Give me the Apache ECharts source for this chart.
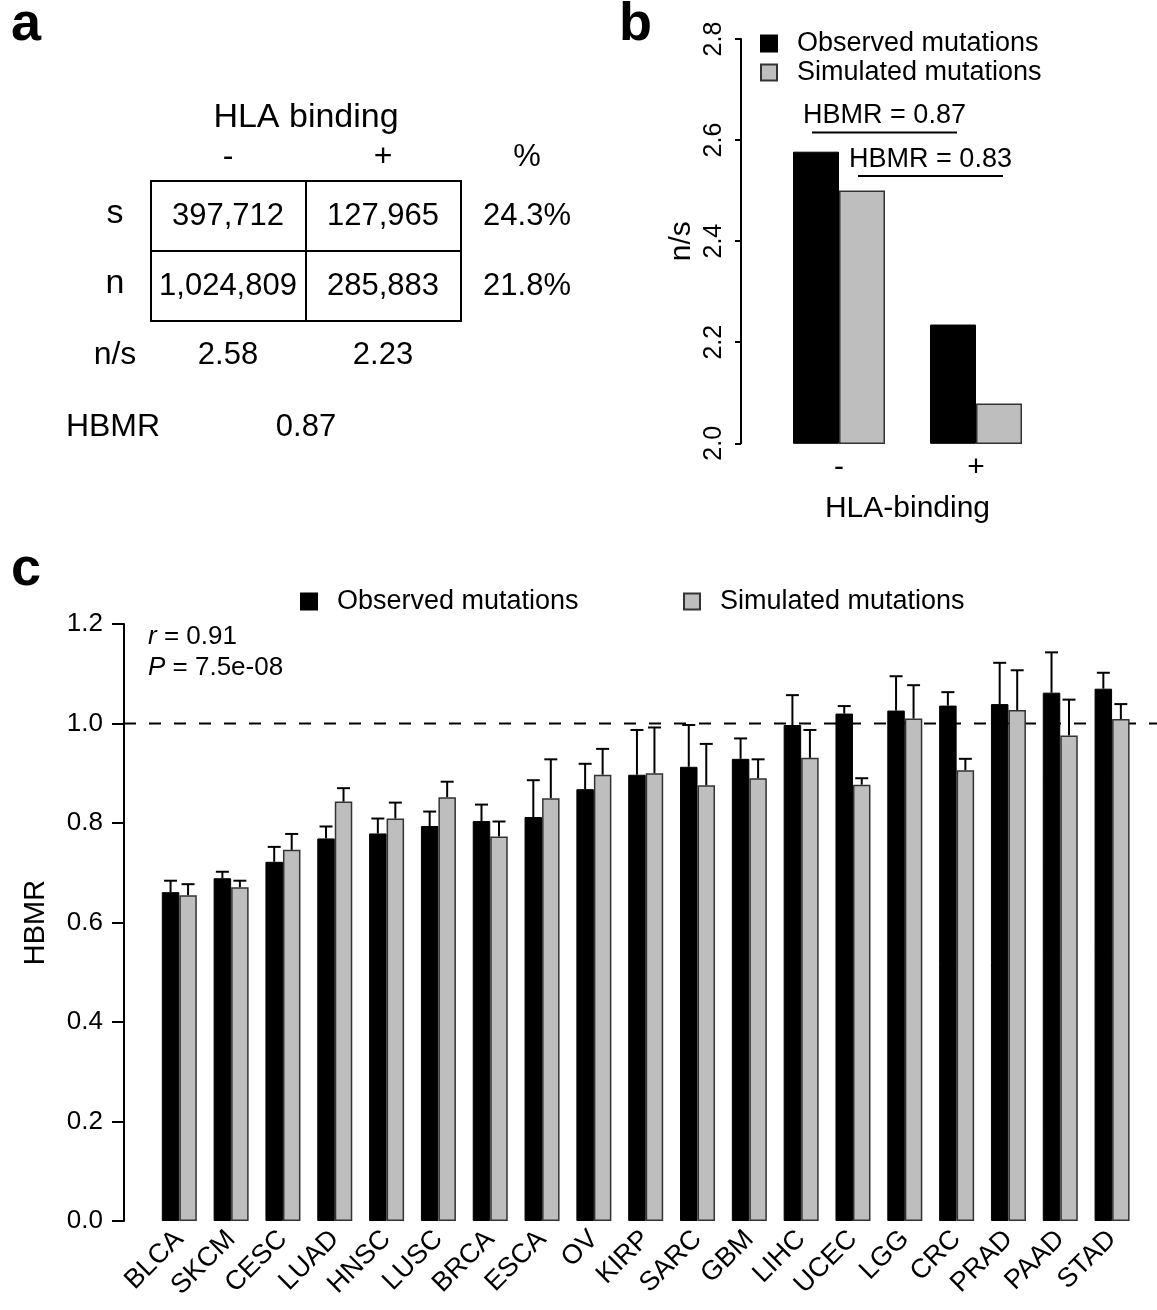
<!DOCTYPE html>
<html>
<head>
<meta charset="utf-8">
<title>HBMR</title>
<script src="https://cdn.jsdelivr.net/npm/echarts@6/dist/echarts.min.js"></script>
<style>
html, body { margin: 0; padding: 0; background: #fff; }
#chart { width: 1157px; height: 1310px; }
</style>
</head>
<body>
<div id="chart"></div>
<script>
// panel a - contingency table
var hlaLevels = ['-', '+'];
var tableRows = ['s', 'n'];
var synCounts = [397712, 127965];
var nonsynCounts = [1024809, 285883];
var rowPct = ['24.3%', '21.8%'];
var nsRatio = [2.58, 2.23];
var hbmrAll = 0.87;

// panel b - n/s by HLA binding
var nsObserved = [2.577, 2.235];
var nsSimulated = [2.500, 2.079];
var bracketLabels = ['HBMR = 0.87', 'HBMR = 0.83'];
var bracketY = [2.615, 2.529];

// panel c - HBMR per cancer type (bar value, upper error bar)
var cancerTypes = ['BLCA', 'SKCM', 'CESC', 'LUAD', 'HNSC', 'LUSC', 'BRCA', 'ESCA', 'OV', 'KIRP',
  'SARC', 'GBM', 'LIHC', 'UCEC', 'LGG', 'CRC', 'PRAD', 'PAAD', 'STAD'];
var hbmrObserved = [0.661, 0.689, 0.722, 0.769, 0.779, 0.794, 0.804, 0.812, 0.868, 0.897,
  0.913, 0.929, 0.997, 1.020, 1.026, 1.036, 1.039, 1.062, 1.070];
var hbmrObservedUpper = [0.684, 0.702, 0.752, 0.793, 0.809, 0.823, 0.837, 0.886, 0.919, 0.987,
  0.997, 0.970, 1.057, 1.035, 1.095, 1.063, 1.122, 1.143, 1.102];
var hbmrSimulated = [0.655, 0.671, 0.746, 0.843, 0.809, 0.852, 0.773, 0.850, 0.897, 0.900,
  0.876, 0.890, 0.931, 0.877, 1.010, 0.906, 1.027, 0.976, 1.009];
var hbmrSimulatedUpper = [0.677, 0.684, 0.778, 0.870, 0.841, 0.883, 0.803, 0.928, 0.949, 0.992,
  0.959, 0.928, 0.987, 0.890, 1.077, 0.929, 1.107, 1.048, 1.039];
var corrR = '0.91';
var corrP = '7.5e-08';

var FONT = '"Liberation Sans", Arial, Helvetica, sans-serif';
var GRAY = '#bebebe';
var BAR_B = 46;     // bar width panel b
var BAR_C = 17.5;   // bar width panel c

function txt(s, x, y, size, align, extra) {
  var style = {
    text: s, fill: '#000', fontSize: size, fontFamily: FONT,
    align: align || 'center', verticalAlign: 'middle'
  };
  if (extra) for (var k in extra) style[k] = extra[k];
  return { type: 'text', x: x, y: y, z: 10, style: style };
}
function seg(x1, y1, x2, y2) {
  return { type: 'line', z: 10, shape: { x1: x1, y1: y1, x2: x2, y2: y2 }, style: { stroke: '#000', lineWidth: 2 } };
}

// table graphics for panel a
var colX = [228, 383];
var rowY = [216, 286];
var tableEls = [
  txt('a', 11, 25, 54, 'left', { fontWeight: 'bold' }),
  txt('b', 619, 25, 54, 'left', { fontWeight: 'bold' }),
  txt('c', 11, 570, 54, 'left', { fontWeight: 'bold' }),
  txt('HLA binding', 306, 118, 34),
  txt('%', 527, 157, 31),
  { type: 'rect', z: 10, shape: { x: 151, y: 181, width: 310, height: 140 },
    style: { fill: 'none', stroke: '#000', lineWidth: 2 } },
  seg(306, 181, 306, 321),
  seg(151, 251, 461, 251),
  txt('n/s', 115, 355, 32),
  txt('HBMR', 113, 427, 32),
  txt(hbmrAll.toFixed(2), 306, 427, 31)
];
hlaLevels.forEach(function (h, i) { tableEls.push(txt(h, colX[i], 157, 32)); });
tableRows.forEach(function (r, i) {
  tableEls.push(txt(r, 115, rowY[i] - 2, 34));
  tableEls.push(txt(rowPct[i], 527, rowY[i], 31));
});
[synCounts, nonsynCounts].forEach(function (row, i) {
  row.forEach(function (v, j) { tableEls.push(txt(v.toLocaleString('en-US'), colX[j], rowY[i], 31)); });
});
nsRatio.forEach(function (v, j) { tableEls.push(txt(v.toFixed(2), colX[j], 355, 31)); });

// correlation note on panel c
var richItalic = { i: { fontStyle: 'italic', fontSize: 26, fontFamily: FONT } };
tableEls.push(txt('{i|r} = ' + corrR, 148, 637, 26, 'left', { rich: richItalic }));
tableEls.push(txt('{i|P} = ' + corrP, 148, 668, 26, 'left', { rich: richItalic }));

function errorRenderer(sign) {
  return function (params, api) {
    var i = api.value(0);
    var base = api.coord([i, api.value(1)]);
    var top = api.coord([i, api.value(2)]);
    var cx = base[0] + sign * BAR_C / 2;
    var ls = { stroke: '#000', lineWidth: 2 };
    return {
      type: 'group',
      children: [
        { type: 'line', shape: { x1: cx, y1: base[1], x2: cx, y2: top[1] }, style: ls },
        { type: 'line', shape: { x1: cx - 6.5, y1: top[1], x2: cx + 6.5, y2: top[1] }, style: ls }
      ]
    };
  };
}

var chart = echarts.init(document.getElementById('chart'), null, { renderer: 'canvas' });

var option = {
  animation: false,
  backgroundColor: '#fff',
  textStyle: { fontFamily: FONT, color: '#000' },
  graphic: { elements: tableEls },
  legend: [
    {
      left: 760, top: 30, orient: 'vertical', padding: 0, itemGap: 2,
      itemWidth: 16, itemHeight: 16, icon: 'rect', selectedMode: false,
      formatter: '  {name}',
      textStyle: { fontSize: 27, color: '#000', lineHeight: 27 },
      data: ['Observed mutations', 'Simulated mutations']
    },
    {
      left: 300, top: 588, padding: 0, itemWidth: 16, itemHeight: 16, icon: 'rect', selectedMode: false,
      formatter: '  {name}',
      textStyle: { fontSize: 27, color: '#000', lineHeight: 27 },
      data: ['Observed mutations']
    },
    {
      left: 683, top: 588, padding: 0, itemWidth: 16, itemHeight: 16, icon: 'rect', selectedMode: false,
      formatter: '  {name}',
      textStyle: { fontSize: 27, color: '#000', lineHeight: 27 },
      data: ['Simulated mutations']
    }
  ],
  grid: [
    { left: 770.5, top: 39, width: 274, height: 404.3 },
    { left: 153.4, top: 624, width: 984.6, height: 597 }
  ],
  xAxis: [
    {
      type: 'category', gridIndex: 0, data: hlaLevels,
      axisLine: { show: false }, axisTick: { show: false },
      axisLabel: { fontSize: 30, color: '#000', margin: 9 },
      name: 'HLA-binding', nameLocation: 'middle', nameGap: 50,
      nameTextStyle: { fontSize: 30, color: '#000' }
    },
    {
      type: 'category', gridIndex: 1, data: cancerTypes,
      axisLine: { show: false }, axisTick: { show: false },
      axisLabel: { fontSize: 27, color: '#000', rotate: 45, margin: 14, interval: 0 }
    }
  ],
  yAxis: [
    {
      type: 'value', gridIndex: 0, min: 2.0, max: 2.8, interval: 0.2, offset: 29.5,
      splitLine: { show: false },
      axisLine: { show: true, lineStyle: { color: '#000', width: 2 } },
      axisTick: { show: true, length: 6, lineStyle: { color: '#000', width: 2 } },
      axisLabel: { rotate: 90, fontSize: 25, color: '#000', margin: 14,
        formatter: function (v) { return v.toFixed(1); } },
      name: 'n/s', nameLocation: 'middle', nameRotate: 90, nameGap: 44,
      nameTextStyle: { fontSize: 30, color: '#000' }
    },
    {
      type: 'value', gridIndex: 1, min: 0, max: 1.2, interval: 0.2, offset: 29.4,
      splitLine: { show: false },
      axisLine: { show: true, lineStyle: { color: '#000', width: 2 } },
      axisTick: { show: true, length: 12, lineStyle: { color: '#000', width: 2 } },
      axisLabel: { fontSize: 26, color: '#000', margin: 21,
        formatter: function (v) { return v.toFixed(1); } },
      name: 'HBMR', nameLocation: 'middle', nameRotate: 90, nameGap: 74,
      nameTextStyle: { fontSize: 29, color: '#000' }
    }
  ],
  series: [
    {
      name: 'Observed mutations', type: 'bar', xAxisIndex: 0, yAxisIndex: 0,
      barWidth: BAR_B, barGap: '0%', data: nsObserved,
      itemStyle: { color: '#000', borderColor: '#000', borderWidth: 1 }
    },
    {
      name: 'Simulated mutations', type: 'bar', xAxisIndex: 0, yAxisIndex: 0,
      barWidth: BAR_B, barGap: '0%', data: nsSimulated,
      itemStyle: { color: GRAY, borderColor: '#333', borderWidth: 1.5 }
    },
    {
      name: 'brackets', type: 'custom', xAxisIndex: 0, yAxisIndex: 0, z: 5,
      encode: { x: 0, y: 2 },
      data: bracketY.map(function (y, k) { return [0, 1, y, k === 0 ? -1 : 1, k]; }),
      renderItem: function (params, api) {
        var y = api.value(2), s = api.value(3), k = api.value(4);
        var p0 = api.coord([0, y]), p1 = api.coord([1, y]);
        var x1 = p0[0] + s * BAR_B / 2 - 4, x2 = p1[0] + s * BAR_B / 2 + 4;
        return {
          type: 'group',
          children: [
            { type: 'line', shape: { x1: x1, y1: p0[1], x2: x2, y2: p0[1] }, style: { stroke: '#000', lineWidth: 2 } },
            { type: 'text', x: (x1 + x2) / 2, y: p0[1] - 3,
              style: { text: bracketLabels[k], fontSize: 27, fontFamily: FONT, fill: '#000', align: 'center', verticalAlign: 'bottom' } }
          ]
        };
      }
    },
    {
      name: 'Observed mutations', type: 'bar', xAxisIndex: 1, yAxisIndex: 1,
      barWidth: BAR_C, barGap: '0%', data: hbmrObserved,
      itemStyle: { color: '#000', borderColor: '#000', borderWidth: 1 }
    },
    {
      name: 'Simulated mutations', type: 'bar', xAxisIndex: 1, yAxisIndex: 1,
      barWidth: BAR_C, barGap: '0%', data: hbmrSimulated,
      itemStyle: { color: GRAY, borderColor: '#333', borderWidth: 1.5 }
    },
    {
      name: 'obsErr', type: 'custom', xAxisIndex: 1, yAxisIndex: 1, z: 4,
      encode: { x: 0, y: [1, 2] },
      data: hbmrObserved.map(function (v, i) { return [i, v, hbmrObservedUpper[i]]; }),
      renderItem: errorRenderer(-1)
    },
    {
      name: 'simErr', type: 'custom', xAxisIndex: 1, yAxisIndex: 1, z: 4,
      encode: { x: 0, y: [1, 2] },
      data: hbmrSimulated.map(function (v, i) { return [i, v, hbmrSimulatedUpper[i]]; }),
      renderItem: errorRenderer(1)
    },
    {
      name: 'refLine', type: 'custom', xAxisIndex: 1, yAxisIndex: 1, z: 1,
      encode: { x: 0, y: 1 },
      data: [[0, 1.0]],
      renderItem: function (params, api) {
        var p = api.coord([0, api.value(1)]);
        var left = params.coordSys.x - 29.4;
        return {
          type: 'line', shape: { x1: left, y1: p[1], x2: 1157, y2: p[1] },
          style: { stroke: '#000', lineWidth: 2, lineDash: [12, 13] }
        };
      }
    }
  ]
};

chart.setOption(option);
window.onresize = function () { chart.resize(); };
</script>
</body>
</html>
